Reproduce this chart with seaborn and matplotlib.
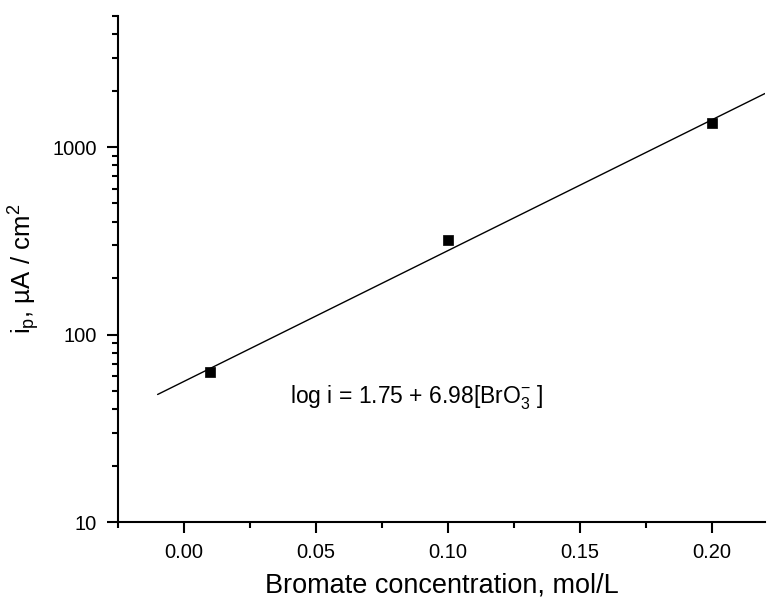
import numpy as np
import pandas as pd
import matplotlib
matplotlib.use("Agg")
import matplotlib.pyplot as plt
import matplotlib.ticker as mticker
import seaborn as sns

# data
conc = [0.01, 0.10, 0.20]
current = [63, 321, 1350]
fit_intercept = 1.75
fit_slope = 6.98
fit_range = [-0.01, 0.22]
x_ticks = [0.00, 0.05, 0.10, 0.15, 0.20]
x_tick_labels = ["0.00", "0.05", "0.10", "0.15", "0.20"]
y_ticks = [10, 100, 1000]
y_tick_labels = ["10", "100", "1000"]

sns.set_style("ticks")
plt.rcParams['font.family'] = ['Liberation Sans', 'DejaVu Sans']
plt.rcParams['mathtext.fontset'] = 'custom'
plt.rcParams['mathtext.rm'] = 'Liberation Sans'
plt.rcParams['mathtext.it'] = 'Liberation Sans'
plt.rcParams['mathtext.default'] = 'regular'
plt.rcParams['text.color'] = 'black'
plt.rcParams['axes.labelcolor'] = 'black'
plt.rcParams['axes.edgecolor'] = 'black'
plt.rcParams['xtick.color'] = 'black'
plt.rcParams['ytick.color'] = 'black'

fig = plt.figure(figsize=(7.67, 6.02), dpi=100)
ax = fig.add_axes([118/767, 1-522/602, (765-118)/767, (522-16)/602])

df = pd.DataFrame({"conc": conc, "current": current})
fx = np.array(fit_range)
fit_df = pd.DataFrame({"x": fx, "y": 10 ** (fit_intercept + fit_slope * fx)})

sns.lineplot(data=fit_df, x="x", y="y", ax=ax, color="black", linewidth=1.0)
sns.scatterplot(data=df, x="conc", y="current", ax=ax, marker="s", color="black",
                s=55, edgecolor="black", linewidth=0.5, zorder=3)

ax.set_yscale("log")
ax.set_xlim(-0.025, 0.22)
ax.set_ylim(10, 5000)
ax.set_xticks(x_ticks)
ax.set_xticklabels(x_tick_labels)
ax.xaxis.set_minor_locator(mticker.MultipleLocator(0.025))
ax.set_yticks(y_ticks)
ax.set_yticklabels(y_tick_labels)
ax.yaxis.set_minor_locator(mticker.LogLocator(base=10, subs=np.arange(2, 10)))
ax.yaxis.set_minor_formatter(mticker.NullFormatter())

sns.despine(ax=ax)
for s in ["left", "bottom"]:
    ax.spines[s].set_linewidth(1.5)
    ax.spines[s].set_color("black")
ax.tick_params(axis="both", which="major", direction="out", length=8, width=1.5,
               labelsize=14.5, pad=7, color="black", labelcolor="black")
ax.tick_params(axis="both", which="minor", direction="out", length=4.5, width=1.5,
               color="black")

ax.set_xlabel("Bromate concentration, mol/L", fontsize=19.5, labelpad=8, color="black")
ax.set_ylabel(r"i$_\mathregular{p}$, µA / cm$^\mathregular{2}$", fontsize=18.5,
              labelpad=8, color="black")

ax.text(0.040, 46, r"log i = 1.75 + 6.98[BrO$_\mathregular{3}^{\mathregular{-}}$ ]",
        fontsize=16.5, va="center", ha="left", color="black")

fig.savefig("out.png", dpi=100)
